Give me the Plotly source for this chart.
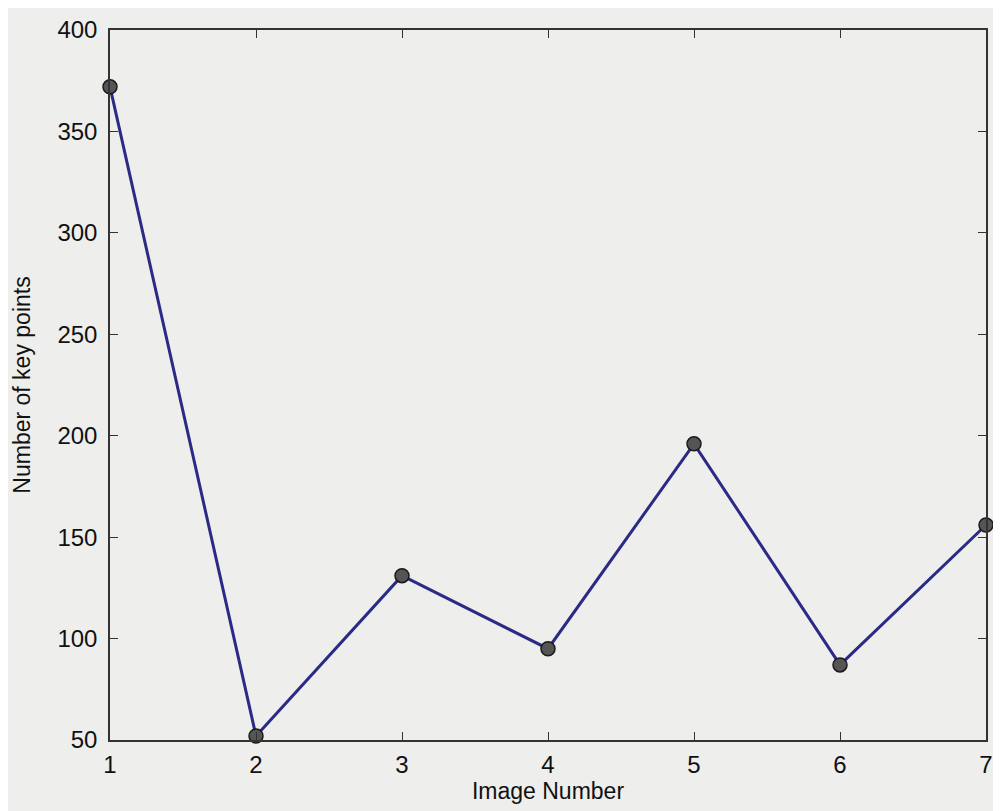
import plotly.graph_objects as go

image_number = [1, 2, 3, 4, 5, 6, 7]
key_points = [372, 52, 131, 95, 196, 87, 156]
x_ticks = [1, 2, 3, 4, 5, 6, 7]
y_ticks = [50, 100, 150, 200, 250, 300, 350, 400]

bg = "#eeeeec"
font_family = "Liberation Sans, Arial, sans-serif"
fig = go.Figure()
fig.add_trace(go.Scatter(
    x=image_number, y=key_points, mode="lines+markers",
    line=dict(color="#2b2a86", width=3),
    marker=dict(size=14, color="#555555", line=dict(color="#1a1a1a", width=1.5)),
    cliponaxis=False,
))

axis_common = dict(
    showline=True, mirror="ticks", linecolor="#333333", linewidth=1.5,
    ticks="inside", ticklen=8, tickwidth=1.2, tickcolor="#333333",
    showgrid=False, zeroline=False,
    tickfont=dict(family=font_family, size=24, color="#111111"),
)

fig.update_layout(
    width=993, height=803,
    paper_bgcolor=bg, plot_bgcolor=bg,
    margin=dict(l=102, r=8, t=22, b=71),
    showlegend=False,
    xaxis=dict(range=[1, 7], tickvals=x_ticks, ticklabelstandoff=2,
               title=dict(text="Image Number", standoff=4,
                          font=dict(family=font_family, size=23, color="#111111")),
               **axis_common),
    yaxis=dict(range=[50, 400], tickvals=y_ticks, ticklabelstandoff=6,
               title=dict(text="Number of key points", standoff=20,
                          font=dict(family=font_family, size=23, color="#111111")),
               **axis_common),
)

fig.write_html("out.html")
